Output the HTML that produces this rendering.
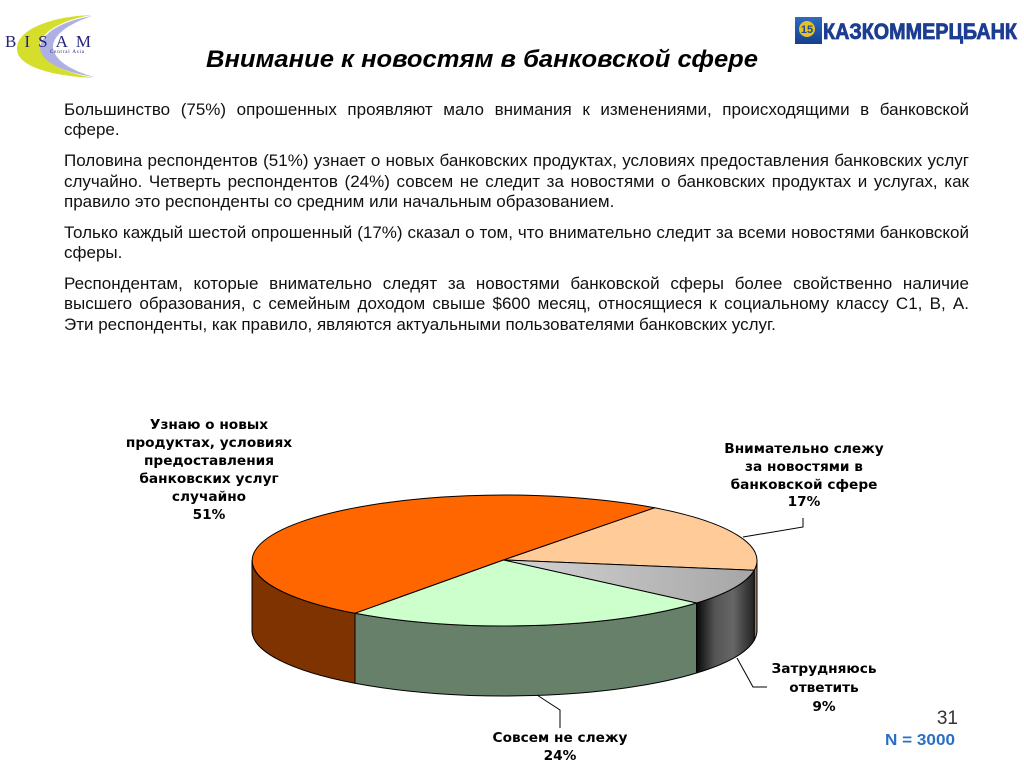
<!DOCTYPE html>
<html>
<head>
<meta charset="utf-8">
<style>
  html, body { margin:0; padding:0; background:#fff; }
  body { width:1024px; height:768px; position:relative; overflow:hidden; font-family:"Liberation Sans", Arial, sans-serif; }
  #txt { position:absolute; left:64px; top:100px; width:905px; font-size:17px; line-height:20.3px; color:#111; }
  #txt p { margin:0 0 10.7px 0; }
  #txt .j { display:block; text-align:justify; text-align-last:justify; white-space:nowrap; }
  #txt .l { display:block; text-align:left; white-space:nowrap; }
  svg { position:absolute; left:0; top:0; }
</style>
</head>
<body>
<svg width="1024" height="768" viewBox="0 0 1024 768" xmlns="http://www.w3.org/2000/svg">
  <defs>
    <linearGradient id="gtop" x1="0" y1="0" x2="1" y2="0">
      <stop offset="0" stop-color="#d4d4d4"/>
      <stop offset="1" stop-color="#a6a6a6"/>
    </linearGradient>
    <linearGradient id="gside" gradientUnits="userSpaceOnUse" x1="697" y1="0" x2="757" y2="0">
      <stop offset="0" stop-color="#0a0a0a"/>
      <stop offset="0.3" stop-color="#555"/>
      <stop offset="0.6" stop-color="#666"/>
      <stop offset="1" stop-color="#1a1a1a"/>
    </linearGradient>
    <linearGradient id="kkb" x1="0" y1="0" x2="0" y2="1">
      <stop offset="0" stop-color="#2d6cc0"/>
      <stop offset="1" stop-color="#163f8e"/>
    </linearGradient>
  </defs>

  <!-- BISAM logo -->
  <path d="M92 15 C55 16 18 28 17 48 C16 66 50 76 94 78 C62 72 42 62 40 48 C38 34 60 20 92 15 Z" fill="#d6de2c"/>
  <path d="M92 16 C62 21 41 33 40 48 C41 62 62 72 94 77 C70 70 54 60 53 47 C53 35 68 24 92 16 Z" fill="#aeb0e4"/>
  <text x="5" y="47" font-family="Liberation Serif, serif" font-size="17" fill="#24247a" textLength="86" lengthAdjust="spacing">BISAM</text>
  <text x="50" y="53" font-family="Liberation Serif, serif" font-size="5" fill="#24247a" textLength="34" lengthAdjust="spacing">Central Asia</text>

  <!-- KKB logo -->
  <rect x="795" y="17" width="27" height="27" fill="url(#kkb)"/>
  <circle cx="807" cy="29" r="8" fill="#e8c020"/>
  <text x="807" y="33" font-family="Liberation Sans, sans-serif" font-weight="bold" font-size="11" fill="#1a4a9a" text-anchor="middle">15</text>
  <text x="823" y="39" font-family="Liberation Sans Narrow, Liberation Sans, sans-serif" font-weight="bold" font-size="22" fill="#1c3d92" stroke="#1c3d92" stroke-width="0.8" textLength="194" lengthAdjust="spacingAndGlyphs">КАЗКОММЕРЦБАНК</text>

  <!-- Title -->
  <text x="206" y="67" font-family="Liberation Sans, sans-serif" font-weight="bold" font-style="italic" font-size="24" fill="#000" textLength="552" lengthAdjust="spacingAndGlyphs">Внимание к новостям в банковской сфере</text>

  <!-- Pie sides -->
  <g stroke="#000" stroke-width="1" stroke-linejoin="round">
    <path d="M757 560.5 A252.5 65.5 0 0 1 754.2 570.2 L754.2 640.2 A252.5 65.5 0 0 0 757 630.5 Z" fill="#a08060"/>
    <path d="M754.2 570.2 A252.5 65.5 0 0 1 696.5 603 L696.5 673 A252.5 65.5 0 0 0 754.2 640.2 Z" fill="url(#gside)"/>
    <path d="M696.5 603 A252.5 65.5 0 0 1 355 613.3 L355 683.3 A252.5 65.5 0 0 0 696.5 673 Z" fill="#67806a"/>
    <path d="M355 613.3 A252.5 65.5 0 0 1 252 560.5 L252 630.5 A252.5 65.5 0 0 0 355 683.3 Z" fill="#7f3300"/>
  </g>
  <!-- Pie tops -->
  <g stroke="#000" stroke-width="1" stroke-linejoin="round">
    <path d="M503.5 560 L355 613.3 A252.5 65.5 0 1 1 654.7 507.8 Z" fill="#ff6600"/>
    <path d="M503.5 560 L654.7 507.8 A252.5 65.5 0 0 1 754.2 570.2 Z" fill="#ffcc99"/>
    <path d="M503.5 560 L754.2 570.2 A252.5 65.5 0 0 1 696.5 603 Z" fill="url(#gtop)"/>
    <path d="M503.5 560 L696.5 603 A252.5 65.5 0 0 1 355 613.3 Z" fill="#ccffcc"/>
  </g>

  <!-- Leader lines -->
  <g stroke="#000" stroke-width="1" fill="none">
    <polyline points="743,537 803,527 803,518"/>
    <polyline points="737,658 753,687 767,687"/>
    <polyline points="537,695 560,710 560,728"/>
  </g>

  <!-- Labels -->
  <g font-family="DejaVu Sans, Verdana, sans-serif" font-weight="bold" font-size="13.7" fill="#000" text-anchor="middle">
    <text x="209" y="429">Узнаю о новых</text>
    <text x="209" y="447">продуктах, условиях</text>
    <text x="209" y="465">предоставления</text>
    <text x="209" y="483">банковских услуг</text>
    <text x="209" y="501">случайно</text>
    <text x="209" y="519">51%</text>

    <text x="804" y="453">Внимательно слежу</text>
    <text x="804" y="471">за новостями в</text>
    <text x="804" y="489">банковской сфере</text>
    <text x="804" y="506">17%</text>

    <text x="824" y="673">Затрудняюсь</text>
    <text x="824" y="692">ответить</text>
    <text x="824" y="711">9%</text>

    <text x="560" y="742">Совсем не слежу</text>
    <text x="560" y="760">24%</text>
  </g>

  <text x="958" y="724" font-family="Liberation Sans, sans-serif" font-size="19" fill="#333" text-anchor="end">31</text>
  <text x="885" y="745" font-family="Liberation Sans, sans-serif" font-weight="bold" font-size="16" fill="#2a6fc4" textLength="70" lengthAdjust="spacingAndGlyphs">N = 3000</text>
</svg>

<div id="txt">
  <p><span class="j">Большинство (75%) опрошенных проявляют мало внимания к изменениями, происходящими в банковской</span><span class="l">сфере.</span></p>
  <p><span class="j">Половина респондентов (51%) узнает о новых банковских продуктах, условиях предоставления банковских услуг</span><span class="j">случайно. Четверть респондентов (24%) совсем не следит за новостями о банковских продуктах и услугах, как</span><span class="l">правило это респонденты со средним или начальным образованием.</span></p>
  <p><span class="j">Только каждый шестой опрошенный (17%) сказал о том, что внимательно следит за всеми новостями банковской</span><span class="l">сферы.</span></p>
  <p><span class="j">Респондентам, которые внимательно следят за новостями банковской сферы более свойственно наличие</span><span class="j">высшего образования, с семейным доходом свыше $600 месяц, относящиеся к социальному классу С1, В, А.</span><span class="l">Эти респонденты, как правило, являются актуальными пользователями банковских услуг.</span></p>
</div>
</body>
</html>
